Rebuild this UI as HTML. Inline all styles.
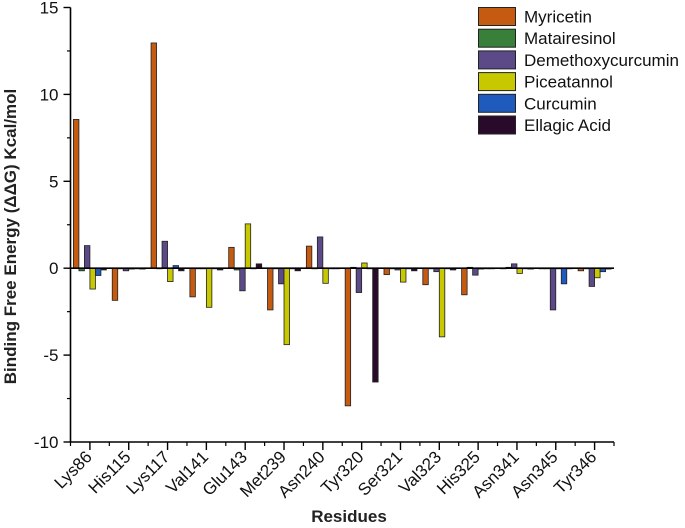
<!DOCTYPE html>
<html><head><meta charset="utf-8"><style>
html,body{margin:0;padding:0;background:#fff;}
svg{display:block;font-family:"Liberation Sans",sans-serif;}
</style></head><body>
<svg id="chart" width="685" height="528" viewBox="0 0 685 528"></svg>
<script>
const residues=["Lys86","His115","Lys117","Val141","Glu143","Met239","Asn240","Tyr320","Ser321","Val323","His325","Asn341","Asn345","Tyr346"];
const seriesNames=["Myricetin","Matairesinol","Demethoxycurcumin","Piceatannol","Curcumin","Ellagic Acid"];
const myricetin=[8.56,-1.85,12.96,-1.65,1.2,-2.4,1.27,-7.92,-0.37,-0.95,-1.53,0,0,-0.15];
const matairesinol=[-0.15,0,0,0,-0.1,0,0,0.05,0,0,0.05,0.05,0,0];
const demethoxycurcumin=[1.3,-0.15,1.55,0,-1.3,-0.9,1.8,-1.4,-0.1,-0.2,-0.4,0.25,-2.4,-1.05];
const piceatannol=[-1.2,-0.05,-0.77,-2.25,2.55,-4.4,-0.87,0.3,-0.8,-3.95,-0.05,-0.3,0,-0.55];
const curcumin=[-0.42,0,0.15,0,0,0,0,0,0,0,0,0,-0.9,-0.2];
const ellagicAcid=[-0.1,-0.05,-0.15,-0.1,0.25,-0.15,0,-6.55,-0.15,-0.1,0,-0.05,0,-0.05];
const yTicks=[15,10,5,0,-5,-10];
const yMinorTicks=[12.5,7.5,2.5,-2.5,-7.5];
const colors=["#c55a11","#38803a","#5c4a88","#c8c800","#1f5bbd","#2a0a2a"];
const allSeries=[myricetin,matairesinol,demethoxycurcumin,piceatannol,curcumin,ellagicAcid];

const NS="http://www.w3.org/2000/svg";
const svg=document.getElementById("chart");
const L=70.5,R=614,T=7.5,B=442;
const yMin=-10,yMax=15;
function y(v){return B-(v-yMin)/(yMax-yMin)*(B-T);}
const band=(R-L)/residues.length;
function xBand(i){return L+i*band;}
const bw=5.5,pad=(band-6*bw)/2;
function mk(tag,attrs,parent){const e=document.createElementNS(NS,tag);for(const k in attrs)e.setAttribute(k,attrs[k]);(parent||svg).appendChild(e);return e;}

const gBars=mk("g",{});


allSeries.forEach((arr,s)=>{
  arr.forEach((v,i)=>{
    const x=xBand(i)+pad+s*bw;
    const y0=y(0),y1=y(v);
    const r=mk("rect",{x:x,y:Math.min(y0,y1),width:bw,height:Math.max(Math.abs(y1-y0),0.6),fill:colors[s],stroke:"#222","stroke-width":0.8},gBars);
    
    
  });
});
const zl=mk("line",{x1:L,x2:R,y1:y(0),y2:y(0),stroke:"#000","stroke-width":1.6});


const ya=mk("line",{x1:L,x2:L,y1:T,y2:B,stroke:"#000","stroke-width":1.6});


const xa=mk("line",{x1:L,x2:R,y1:B,y2:B,stroke:"#000","stroke-width":1.6});


yTicks.forEach(t=>{
  mk("line",{x1:L-7,x2:L,y1:y(t),y2:y(t),stroke:"#000","stroke-width":1.4});
  const tx=mk("text",{x:L-12,y:y(t)+6,"text-anchor":"end","font-size":17,fill:"#111"});
  tx.textContent=t;
  
  
});
yMinorTicks.forEach(t=>{
  mk("line",{x1:L-3.5,x2:L,y1:y(t),y2:y(t),stroke:"#000","stroke-width":1.2});
});
residues.forEach((r,i)=>{
  const cx=xBand(i)+band/2;
  mk("line",{x1:cx,x2:cx,y1:B,y2:B+8,stroke:"#000","stroke-width":1.4});
  mk("line",{x1:xBand(i),x2:xBand(i),y1:B,y2:B+4,stroke:"#000","stroke-width":1.2});
  const tx=mk("text",{transform:`translate(${cx+3},${B+16}) rotate(-45)`,"text-anchor":"end","font-size":17,fill:"#111"});
  tx.textContent=r;
  
  
});
mk("line",{x1:R,x2:R,y1:B,y2:B+4,stroke:"#000","stroke-width":1.2});
const yt=mk("text",{transform:`translate(16,${(86+387)/2}) rotate(-90)`,"text-anchor":"middle","font-size":17,"font-weight":"bold",fill:"#222"});
yt.textContent="Binding Free Energy (\u0394\u0394G) Kcal/mol";


const xt=mk("text",{x:349,y:522,"text-anchor":"middle","font-size":17,"font-weight":"bold",fill:"#222"});
xt.textContent="Residues";


const lg=mk("g",{});


seriesNames.forEach((n,s)=>{
  const yy=7.5+s*21.7;
  mk("rect",{x:478.5,y:yy,width:37,height:18,fill:colors[s],stroke:"#222","stroke-width":1},lg);
  const tx=mk("text",{x:524,y:yy+15,"font-size":17,fill:"#111"},lg);
  tx.textContent=n;
  
  
});
</script>
</body></html>
